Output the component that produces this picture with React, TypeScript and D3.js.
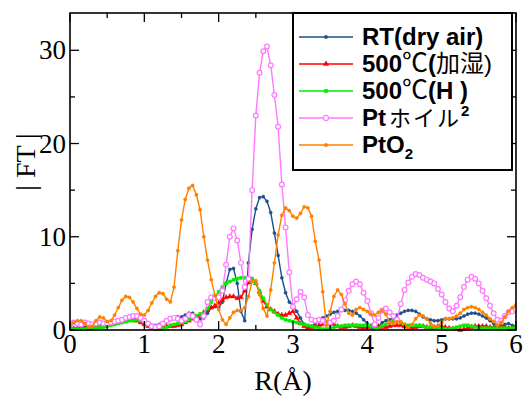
import React from 'react';
import * as d3 from 'd3';

// R grid (Å), 0.05 step from 0 to 6
const rGrid: number[] = d3.range(121).map((i) => Math.round(i * 5) / 100);

const rtDryAir = [
  0.2, 0.2, 0.2, 0.3, 0.3, 0.3, 0.4, 0.5, 0.5, 0.5,
  0.6, 0.7, 0.8, 1.0, 1.1, 1.2, 1.3, 1.3, 1.2, 1.0,
  0.8, 0.6, 0.5, 0.5, 0.6, 0.7, 0.9, 1.1, 1.3, 1.4,
  1.4, 1.6, 1.8, 1.8, 1.5, 1.2, 1.3, 1.8, 2.4, 2.5,
  2.4, 3.0, 5.0, 6.5, 6.6, 5.0, 2.0, 1.0, 7.2, 10.8,
  13.0, 14.2, 14.3, 13.8, 12.6, 10.4, 8.0, 5.6, 4.0, 3.0,
  2.6, 2.0, 1.3, 0.6, 0.2, 0.4, 0.7, 1.0, 1.3, 1.5,
  1.7, 1.9, 2.0, 2.1, 2.1, 2.1, 2.0, 1.8, 1.5, 1.1,
  0.7, 0.3, 0.1, 0.4, 0.8, 1.0, 1.1, 1.3, 1.6, 1.8,
  2.0, 2.1, 2.1, 2.0, 1.7, 1.4, 1.2, 1.1, 1.0, 1.0,
  1.1, 1.2, 1.2, 1.2, 1.2, 1.3, 1.5, 1.7, 1.8, 1.8,
  1.7, 1.5, 1.3, 1.0, 0.7, 0.4, 0.4, 0.6, 0.7, 0.5,
  0.4,
];

const humid500 = [
  0.1, 0.1, 0.1, 0.1, 0.1, 0.2, 0.2, 0.3, 0.3, 0.4,
  0.5, 0.6, 0.7, 0.8, 0.9, 1.0, 1.1, 1.1, 1.0, 0.8,
  0.6, 0.4, 0.2, 0.2, 0.2, 0.3, 0.4, 0.4, 0.4, 0.5,
  0.6, 0.8, 1.0, 1.2, 1.4, 1.6, 1.9, 2.1, 2.4, 2.6,
  2.9, 3.2, 3.5, 3.6, 3.6, 3.4, 3.5, 4.2, 5.1, 5.4,
  5.0, 4.1, 3.1, 2.5, 2.2, 2.0, 1.7, 1.6, 1.6, 1.8,
  2.0, 1.3, 0.7, 0.4, 0.3, 0.3, 0.4, 0.5, 0.6, 0.7,
  0.7, 0.6, 0.4, 0.3, 0.3, 0.4, 0.5, 0.4, 0.3, 0.2,
  0.3, 0.4, 0.5, 0.4, 0.3, 0.3, 0.4, 0.5, 0.5, 0.5,
  0.4, 0.3, 0.2, 0.3, 0.4, 0.4, 0.3, 0.2, 0.3, 0.4,
  0.4, 0.3, 0.2, 0.1, 0.1, 0.0, 0.1, 0.2, 0.3, 0.4,
  0.4, 0.4, 0.4, 0.3, 0.3, 0.4, 0.4, 0.3, 0.2, 0.2,
  0.2,
];

const hydrogen500 = [
  0.1, 0.1, 0.1, 0.1, 0.1, 0.1, 0.2, 0.2, 0.3, 0.3,
  0.4, 0.5, 0.6, 0.7, 0.8, 0.9, 1.0, 1.0, 1.1, 1.0,
  0.9, 0.6, 0.3, 0.1, 0.1, 0.2, 0.3, 0.5, 0.6, 0.7,
  0.8, 0.9, 1.1, 1.3, 1.5, 1.7, 1.8, 2.3, 3.0, 3.6,
  4.1, 4.6, 5.0, 5.2, 5.4, 5.5, 5.6, 5.6, 5.6, 5.5,
  5.0, 4.2, 3.4, 2.7, 2.2, 1.9, 1.6, 1.3, 1.1, 1.0,
  0.9, 0.8, 0.7, 0.6, 0.5, 0.4, 0.3, 0.2, 0.1, 0.1,
  0.2, 0.3, 0.4, 0.4, 0.5, 0.5, 0.5, 0.5, 0.5, 0.5,
  0.5, 0.4, 0.2, 0.2, 0.4, 0.6, 0.8, 0.9, 0.9, 0.8,
  0.6, 0.5, 0.5, 0.5, 0.5, 0.4, 0.3, 0.3, 0.3, 0.2,
  0.2, 0.1, 0.1, 0.2, 0.3, 0.4, 0.5, 0.5, 0.4, 0.3,
  0.2, 0.2, 0.2, 0.2, 0.2, 0.2, 0.2, 0.2, 0.2, 0.2,
  0.2,
];

const ptFoil = [
  0.6, 0.8, 0.7, 0.6, 0.8, 0.7, 0.6, 0.7, 0.8, 0.7,
  0.7, 0.8, 0.9, 1.0, 1.1, 1.3, 1.4, 1.5, 1.5, 1.3,
  1.0, 0.7, 0.4, 0.3, 0.4, 0.7, 1.0, 1.2, 1.3, 1.2,
  1.0, 1.2, 1.6, 1.5, 1.1, 0.6, 1.5, 3.0, 3.5, 3.4,
  3.5, 4.2, 7.0, 10.0, 10.9, 9.6, 7.2, 4.6, 5.5, 15.0,
  23.0, 27.6, 29.9, 30.4, 28.4, 25.2, 21.8, 15.6, 11.0, 6.2,
  2.5, 3.3, 4.1, 3.5, 1.6, 1.1, 1.0, 1.1, 1.0, 0.7,
  0.8, 1.0, 1.5, 2.2, 3.2, 4.2, 4.9, 5.2, 4.9, 4.0,
  3.1, 1.8, 0.6, 1.3, 2.1, 2.3, 1.9, 1.5, 1.1, 2.8,
  4.3, 5.1, 5.7, 6.0, 5.9, 5.6, 5.4, 5.2, 5.0, 4.4,
  3.8, 3.0, 2.3, 2.0, 2.6, 3.5, 4.6, 5.4, 5.7, 5.5,
  5.0, 4.2, 3.4, 2.6, 1.8, 1.1, 1.0, 1.5, 1.9, 2.0,
  2.2,
];

const ptO2 = [
  0.5, 0.8, 1.0, 1.0, 0.7, 0.3, 0.4, 1.0, 1.4, 1.3,
  0.9, 1.0, 1.6, 2.4, 3.2, 3.6, 3.5, 3.0, 2.3, 1.7,
  1.6, 2.1, 2.9, 3.6, 4.0, 3.9, 3.3, 3.0, 4.6, 8.5,
  11.8, 14.0, 15.2, 15.5, 14.5, 12.9, 10.0, 7.5, 5.4, 3.7,
  2.2, 1.1, 0.6, 1.3, 1.9, 2.1, 2.1, 2.4, 3.6, 5.2,
  5.3, 3.8, 2.3, 1.5, 4.3, 7.2, 10.2, 12.3, 13.1, 12.8,
  12.2, 12.0, 12.5, 13.2, 13.1, 12.2, 9.5, 7.5, 4.1, 0.5,
  2.0, 3.6, 4.3, 3.8, 2.8, 1.8, 1.6, 2.2, 2.4, 2.2,
  2.0, 1.7, 1.6, 1.9, 2.1, 1.7, 0.8, 0.7, 0.9, 0.9,
  0.6, 0.2, 0.6, 1.2, 1.6, 1.5, 1.2, 0.7, 0.4, 0.4,
  0.8, 1.2, 1.2, 1.3, 1.5, 1.8, 2.2, 2.4, 2.5, 2.4,
  2.2, 1.9, 1.6, 1.2, 0.9, 0.5, 0.8, 1.4, 2.0, 2.4,
  2.7,
];

const xTickValues = [0, 1, 2, 3, 4, 5, 6];
const xMinorValues = [0.5, 1.5, 2.5, 3.5, 4.5, 5.5];
const yTickValues = [0, 10, 20, 30];
const yMinorValues = [5, 15, 25];

const W = 524;
const H = 396;
const PL = 70, PR = 516, PT = 13, PB = 330;

const series = [
  { key: 'rt', values: rtDryAir, color: '#1d4f8c', symbol: d3.symbolCircle, size: 8, open: false },
  { key: 'humid', values: humid500, color: '#ff0000', symbol: d3.symbolTriangle, size: 11, open: false },
  { key: 'h2', values: hydrogen500, color: '#00ee00', symbol: d3.symbolSquare, size: 10, open: false },
  { key: 'foil', values: ptFoil, color: '#ff78ff', symbol: d3.symbolCircle, size: 18, open: true },
  { key: 'pto2', values: ptO2, color: '#ff8000', symbol: d3.symbolCircle, size: 9, open: false },
];

const LEGEND_FONT = "'Liberation Sans', Arial, sans-serif";
const CJK_FONT = "'Noto Sans CJK JP', sans-serif";
const SERIF = "'Liberation Serif', 'Times New Roman', serif";

export default function App() {
  const x = d3.scaleLinear().domain([0, 6]).range([PL, PR]);
  const y = d3.scaleLinear().domain([0, 34]).range([PB, PT]);
  const line = d3.line<number>().x((_, i) => x(rGrid[i])).y((d) => y(d));

  const legendRows = [0, 1, 2, 3, 4].map((i) => 37 + i * 27);
  const legendLabels: React.ReactNode[] = [
    <tspan fontWeight="bold">RT(dry air)</tspan>,
    <>
      <tspan fontWeight="bold">500</tspan>
      <tspan fontFamily={CJK_FONT} fontSize={26}>℃</tspan>
      <tspan fontWeight="bold">(</tspan>
      <tspan fontFamily={CJK_FONT} fontSize={24}>加湿</tspan>
      <tspan>)</tspan>
    </>,
    <>
      <tspan fontWeight="bold">500</tspan>
      <tspan fontFamily={CJK_FONT} fontSize={26}>℃</tspan>
      <tspan fontWeight="bold">(H )</tspan>
    </>,
    <>
      <tspan fontWeight="bold">Pt</tspan>
      <tspan fontFamily={CJK_FONT} fontSize={22} dx={3} letterSpacing={2}>ホイル</tspan>
      <tspan fontWeight="bold" fontSize={15} dy={-10}>2</tspan>
    </>,
    <>
      <tspan fontWeight="bold">PtO</tspan>
      <tspan fontWeight="bold" fontSize={15} dy={6}>2</tspan>
    </>,
  ];

  return (
    <svg
      width={W}
      height={H}
      style={{ position: 'absolute', left: 0, top: 0, background: '#fff' }}
      xmlns="http://www.w3.org/2000/svg"
    >
      <rect x={0} y={0} width={W} height={H} fill="#fff" />
      <defs>
        <clipPath id="plotClip">
          <rect x={PL} y={PT} width={PR - PL} height={PB - PT + 2} />
        </clipPath>
      </defs>

      {/* series */}
      <g clipPath="url(#plotClip)">
        {series.map((s) => {
          const sym = d3.symbol().type(s.symbol).size(s.size)();
          return (
            <g key={s.key}>
              <path d={line(s.values) || ''} fill="none" stroke={s.color} strokeWidth={1.4} />
              {s.values.map((v, i) => (
                <path
                  key={i}
                  d={sym || ''}
                  transform={`translate(${x(rGrid[i])},${y(v)})`}
                  fill={s.open ? '#fff' : s.color}
                  stroke={s.color}
                  strokeWidth={s.open ? 1.2 : 0.4}
                />
              ))}
            </g>
          );
        })}
      </g>

      {/* frame */}
      <rect x={PL} y={PT} width={PR - PL} height={PB - PT} fill="none" stroke="#000" strokeWidth={1.6} />

      {/* ticks */}
      {xTickValues.map((t) => (
        <g key={'xt' + t}>
          <line x1={x(t)} x2={x(t)} y1={PB} y2={PB - 9} stroke="#000" strokeWidth={1.3} />
          <line x1={x(t)} x2={x(t)} y1={PT} y2={PT + 9} stroke="#000" strokeWidth={1.3} />
          <text x={x(t)} y={353} fontFamily={SERIF} fontSize={27} textAnchor="middle" fill="#000">
            {t}
          </text>
        </g>
      ))}
      {xMinorValues.map((t) => (
        <g key={'xm' + t}>
          <line x1={x(t)} x2={x(t)} y1={PB} y2={PB - 5} stroke="#000" strokeWidth={1.3} />
          <line x1={x(t)} x2={x(t)} y1={PT} y2={PT + 5} stroke="#000" strokeWidth={1.3} />
        </g>
      ))}
      {yTickValues.map((t) => (
        <g key={'yt' + t}>
          <line x1={PL} x2={PL + 9} y1={y(t)} y2={y(t)} stroke="#000" strokeWidth={1.3} />
          <line x1={PR} x2={PR - 9} y1={y(t)} y2={y(t)} stroke="#000" strokeWidth={1.3} />
          <text x={66} y={y(t) + 9} fontFamily={SERIF} fontSize={27} textAnchor="end" fill="#000">
            {t}
          </text>
        </g>
      ))}
      {yMinorValues.map((t) => (
        <g key={'ym' + t}>
          <line x1={PL} x2={PL + 5} y1={y(t)} y2={y(t)} stroke="#000" strokeWidth={1.3} />
          <line x1={PR} x2={PR - 5} y1={y(t)} y2={y(t)} stroke="#000" strokeWidth={1.3} />
        </g>
      ))}

      {/* axis titles */}
      <text x={283} y={390} fontFamily={SERIF} fontSize={28} textAnchor="middle" fill="#000">
        R(Å)
      </text>
      <text
        transform="translate(35,162) rotate(-90)"
        fontFamily={SERIF}
        fontSize={28}
        textAnchor="middle"
        fill="#000"
      >
        | FT |
      </text>

      {/* legend */}
      <rect x={293} y={PT} width={219} height={157} fill="#fff" stroke="#000" strokeWidth={2} />
      {series.map((s, i) => {
        const sym = d3.symbol().type(s.symbol).size(s.open ? 22 : s.size + 2)();
        const ly = legendRows[i];
        return (
          <g key={'lg' + s.key}>
            <line x1={299} x2={353} y1={ly} y2={ly} stroke={s.color} strokeWidth={1.5} />
            <path
              d={sym || ''}
              transform={`translate(326,${ly})`}
              fill={s.open ? '#fff' : s.color}
              stroke={s.color}
              strokeWidth={s.open ? 1.3 : 0.4}
            />
            <text x={362} y={ly + 8} fontFamily={LEGEND_FONT} fontSize={24} fill="#000">
              {legendLabels[i]}
            </text>
          </g>
        );
      })}
    </svg>
  );
}
